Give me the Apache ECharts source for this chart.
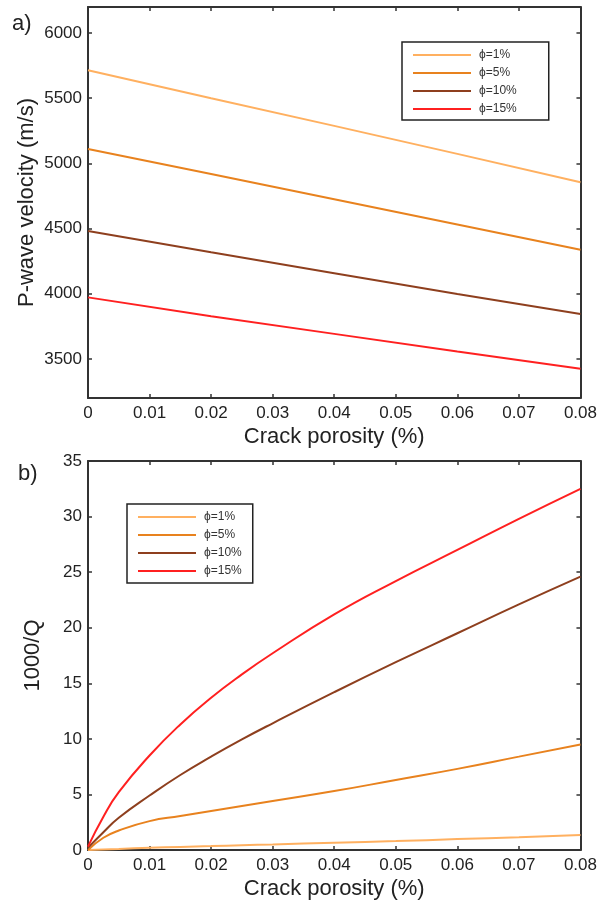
<!DOCTYPE html>
<html>
<head>
<meta charset="utf-8">
<script src="https://cdn.jsdelivr.net/npm/echarts@6/dist/echarts.min.js"></script>
<style>
  html, body { margin: 0; padding: 0; background: #fff; }
  #chart { width: 600px; height: 901px; }
</style>
</head>
<body>
<div id="chart"></div>
<script>
// Series labels (porosity ϕ)
const seriesNames = ['ϕ=1%', 'ϕ=5%', 'ϕ=10%', 'ϕ=15%'];
const seriesColors = ['#ffb060', '#e8821e', '#8e3f1e', '#ff2020'];

// Panel a: P-wave velocity (m/s) against crack porosity (%)
const porosityA = [0, 0.02, 0.04, 0.06, 0.08];
const vp1 = [5715, 5500, 5288, 5073, 4855];
const vp5 = [5110, 4918, 4725, 4532, 4338];
const vp10 = [4482, 4318, 4158, 3998, 3845];
const vp15 = [3972, 3828, 3692, 3556, 3424];

// Panel b: 1000/Q against crack porosity (%)
const porosityB = [0, 0.0025, 0.005, 0.01, 0.015, 0.02, 0.025, 0.03, 0.04, 0.05, 0.06, 0.07, 0.08];
const invQ1 = [0, 0.05, 0.1, 0.2, 0.28, 0.35, 0.43, 0.5, 0.65, 0.8, 0.98, 1.15, 1.35];
const invQ5 = [0, 1.1, 1.75, 2.6, 3.05, 3.5, 3.95, 4.4, 5.3, 6.3, 7.3, 8.4, 9.5];
const invQ10 = [0.2, 1.6, 2.9, 4.9, 6.75, 8.4, 9.95, 11.4, 14.2, 16.9, 19.5, 22.1, 24.6];
const invQ15 = [0.3, 3.0, 5.2, 8.5, 11.3, 13.7, 15.8, 17.7, 21.2, 24.2, 27.0, 29.8, 32.5];

// Tick labels
const xTicks = [0, 0.01, 0.02, 0.03, 0.04, 0.05, 0.06, 0.07, 0.08];
const vpTicks = [3500, 4000, 4500, 5000, 5500, 6000];
const invQTicks = [0, 5, 10, 15, 20, 25, 30, 35];

const pair = (xs, ys) => xs.map((x, i) => [x, ys[i]]);
const FONT = 'Liberation Sans, Arial, sans-serif';
const AXIS_COLOR = '#333';
const TEXT_COLOR = '#222';

function tickStyle(values) {
  const t = { show: true, inside: true, length: 4, lineStyle: { color: AXIS_COLOR, width: 1.5 } };
  if (values) t.customValues = values;
  return t;
}

function labelStyle(values, margin, fmt) {
  const l = { show: true, customValues: values, fontSize: 17, color: TEXT_COLOR, fontFamily: FONT, margin: margin };
  if (fmt) l.formatter = fmt;
  return l;
}

function frameAxis(gridIndex, position, extra) {
  return Object.assign({
    type: 'value',
    gridIndex: gridIndex,
    position: position,
    axisLine: { show: true, onZero: false, lineStyle: { color: AXIS_COLOR, width: 2 } },
    axisTick: tickStyle(),
    splitLine: { show: false },
    axisLabel: { show: false },
    nameMoveOverlap: false
  }, extra);
}

const xLabelFmt = v => (v === 0 ? '0' : v.toFixed(2));
const nameStyle = { fontSize: 22, color: TEXT_COLOR, fontFamily: FONT };

const xMain = (gi) => frameAxis(gi, 'bottom', {
  min: 0, max: 0.08,
  axisTick: tickStyle(xTicks),
  axisLabel: labelStyle(xTicks, 7, xLabelFmt),
  name: 'Crack porosity (%)', nameLocation: 'middle', nameGap: 28,
  nameTextStyle: nameStyle
});
const xTop = (gi) => frameAxis(gi, 'top', { min: 0, max: 0.08, axisTick: tickStyle(xTicks) });

const line = (name, color, xi, yi, data, smooth) => ({
  name: name, type: 'line', xAxisIndex: xi, yAxisIndex: yi,
  data: data, showSymbol: false, smooth: smooth,
  lineStyle: { color: color, width: 2 }, itemStyle: { color: color },
  emphasis: { disabled: true }, animation: false
});

const legendBase = {
  orient: 'vertical',
  data: seriesNames,
  icon: 'rect',
  itemWidth: 58,
  itemHeight: 2,
  itemGap: 6,
  backgroundColor: '#fff',
  borderColor: '#222',
  borderWidth: 1.5,
  textStyle: { fontSize: 12, lineHeight: 12, color: '#333', fontFamily: FONT, padding: [0, 0, 0, 3] }
};

const option = {
  animation: false,
  backgroundColor: '#fff',
  grid: [
    { left: 88, right: 18, top: 7, height: 391 },
    { left: 88, right: 18, top: 461, height: 389 }
  ],
  xAxis: [xMain(0), xTop(0), xMain(1), xTop(1)],
  yAxis: [
    frameAxis(0, 'left', {
      min: 3200, max: 6200,
      axisTick: tickStyle(vpTicks),
      axisLabel: labelStyle(vpTicks, 6, v => String(v)),
      name: 'P-wave velocity (m/s)', nameLocation: 'middle', nameGap: 50,
      nameTextStyle: nameStyle
    }),
    frameAxis(0, 'right', { min: 3200, max: 6200, axisTick: tickStyle(vpTicks) }),
    frameAxis(1, 'left', {
      min: 0, max: 35,
      axisTick: tickStyle(invQTicks),
      axisLabel: labelStyle(invQTicks, 6, v => String(v)),
      name: '1000/Q', nameLocation: 'middle', nameGap: 44,
      nameTextStyle: nameStyle
    }),
    frameAxis(1, 'right', { min: 0, max: 35, axisTick: tickStyle(invQTicks) })
  ],
  legend: [
    Object.assign({}, legendBase, { left: 402, top: 42, padding: [7, 32, 5, 11] }),
    Object.assign({}, legendBase, { left: 127, top: 504, padding: [7, 11, 6, 11] })
  ],
  series: [
    line(seriesNames[0], seriesColors[0], 0, 0, pair(porosityA, vp1), false),
    line(seriesNames[1], seriesColors[1], 0, 0, pair(porosityA, vp5), false),
    line(seriesNames[2], seriesColors[2], 0, 0, pair(porosityA, vp10), false),
    line(seriesNames[3], seriesColors[3], 0, 0, pair(porosityA, vp15), false),
    line(seriesNames[0], seriesColors[0], 2, 2, pair(porosityB, invQ1), 0.5),
    line(seriesNames[1], seriesColors[1], 2, 2, pair(porosityB, invQ5), 0.5),
    line(seriesNames[2], seriesColors[2], 2, 2, pair(porosityB, invQ10), 0.5),
    line(seriesNames[3], seriesColors[3], 2, 2, pair(porosityB, invQ15), 0.5)
  ],
  graphic: [
    { type: 'text', left: 12, top: 13, style: { text: 'a)', fontSize: 22, fill: TEXT_COLOR, fontFamily: FONT } },
    { type: 'text', left: 18, top: 463, style: { text: 'b)', fontSize: 22, fill: TEXT_COLOR, fontFamily: FONT } }
  ]
};

const chart = echarts.init(document.getElementById('chart'), null, { renderer: 'canvas' });
chart.setOption(option);
</script>
</body>
</html>
